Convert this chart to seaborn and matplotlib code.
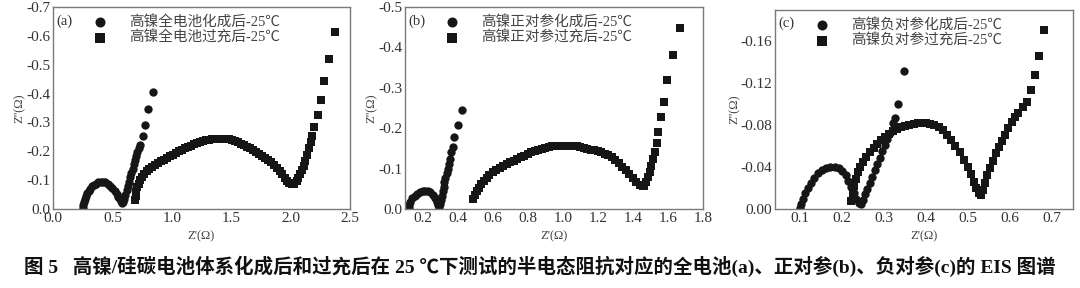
import numpy as np
import pandas as pd
import matplotlib
matplotlib.use("Agg")
import matplotlib.pyplot as plt
import seaborn as sns

# ---------------- data (Z' , -Z'') ----------------
a_form_x = [0.25, 0.255, 0.26, 0.27, 0.28, 0.29, 0.30, 0.315, 0.33, 0.345, 0.36, 0.38, 0.40, 0.42, 0.44,
            0.46, 0.48, 0.50, 0.52, 0.535, 0.55, 0.56, 0.57, 0.58, 0.59, 0.60, 0.61, 0.62, 0.63, 0.64,
            0.65, 0.66, 0.67, 0.68, 0.69, 0.70, 0.71, 0.72, 0.735, 0.755, 0.775, 0.80, 0.845]
a_form_y = [0.005, 0.015, 0.025, 0.035, 0.045, 0.055, 0.063, 0.071, 0.078, 0.084, 0.088, 0.092, 0.094, 0.094, 0.092,
            0.088, 0.081, 0.072, 0.062, 0.052, 0.042, 0.034, 0.027, 0.022, 0.024, 0.035, 0.05, 0.065, 0.08, 0.095,
            0.11, 0.125, 0.14, 0.155, 0.17, 0.185, 0.198, 0.21, 0.222, 0.252, 0.292, 0.345, 0.405]
a_over_x = [0.69, 0.695, 0.70, 0.71, 0.72, 0.735, 0.75, 0.77, 0.79, 0.81, 0.835, 0.86, 0.885, 0.91, 0.935,
            0.96, 0.985, 1.01, 1.035, 1.06, 1.085, 1.11, 1.135, 1.16, 1.185, 1.21, 1.235, 1.26, 1.285, 1.31,
            1.335, 1.36, 1.385, 1.41, 1.435, 1.46, 1.485, 1.51, 1.535, 1.56, 1.585, 1.61, 1.635, 1.66, 1.685,
            1.71, 1.735, 1.76, 1.785, 1.81, 1.835, 1.86, 1.885, 1.91, 1.93, 1.95, 1.97, 1.99, 2.01, 2.03,
            2.05, 2.065, 2.08, 2.095, 2.11, 2.125, 2.14, 2.155, 2.17, 2.18, 2.20, 2.227, 2.255, 2.28, 2.32, 2.37]
a_over_y = [0.03, 0.045, 0.06, 0.075, 0.088, 0.10, 0.11, 0.12, 0.13, 0.138, 0.146, 0.153, 0.159, 0.165, 0.171,
            0.177, 0.183, 0.188, 0.194, 0.20, 0.205, 0.21, 0.215, 0.22, 0.224, 0.228, 0.232, 0.235, 0.238, 0.24,
            0.242, 0.243, 0.244, 0.244, 0.244, 0.243, 0.241, 0.238, 0.235, 0.231, 0.226, 0.221, 0.216, 0.21, 0.204,
            0.198, 0.192, 0.185, 0.178, 0.17, 0.162, 0.153, 0.143, 0.132, 0.12, 0.108, 0.097, 0.089, 0.086, 0.088,
            0.096, 0.107, 0.12, 0.135, 0.15, 0.168, 0.188, 0.21, 0.232, 0.252, 0.284, 0.327, 0.379, 0.442, 0.52, 0.615]

b_form_x = [0.12, 0.123, 0.13, 0.14, 0.155, 0.17, 0.185, 0.20, 0.215, 0.23, 0.245, 0.26, 0.27, 0.28, 0.288,
            0.295, 0.30, 0.305, 0.31, 0.315, 0.32, 0.325, 0.33, 0.337, 0.343, 0.35, 0.357, 0.365, 0.372, 0.38,
            0.40, 0.425]
b_form_y = [0.003, 0.01, 0.018, 0.026, 0.033, 0.038, 0.042, 0.044, 0.045, 0.044, 0.041, 0.035, 0.027, 0.017, 0.009,
            0.006, 0.012, 0.022, 0.033, 0.044, 0.055, 0.066, 0.077, 0.088, 0.10, 0.112, 0.125, 0.14, 0.153, 0.177,
            0.208, 0.245]
b_over_x = [0.49, 0.50, 0.51, 0.52, 0.535, 0.55, 0.565, 0.58, 0.60, 0.62, 0.64, 0.66, 0.68, 0.70, 0.72,
            0.74, 0.76, 0.78, 0.80, 0.82, 0.84, 0.86, 0.88, 0.90, 0.92, 0.94, 0.96, 0.98, 1.00, 1.02,
            1.04, 1.06, 1.08, 1.10, 1.12, 1.14, 1.16, 1.18, 1.20, 1.22, 1.24, 1.26, 1.28, 1.30, 1.32,
            1.34, 1.36, 1.38, 1.40, 1.42, 1.44, 1.455, 1.465, 1.475, 1.485, 1.495, 1.505, 1.515, 1.525, 1.535,
            1.545, 1.56, 1.575, 1.595, 1.63, 1.67]
b_over_y = [0.025, 0.035, 0.045, 0.053, 0.062, 0.07, 0.077, 0.084, 0.091, 0.097, 0.102, 0.107, 0.112, 0.116, 0.12,
            0.124, 0.128, 0.132, 0.136, 0.14, 0.143, 0.146, 0.149, 0.151, 0.153, 0.155, 0.156, 0.157, 0.157, 0.157,
            0.157, 0.156, 0.155, 0.153, 0.151, 0.149, 0.147, 0.145, 0.143, 0.14, 0.137, 0.133, 0.128, 0.122, 0.114,
            0.105, 0.096, 0.087, 0.077, 0.068, 0.06, 0.056, 0.058, 0.066, 0.078, 0.092, 0.107, 0.123, 0.14, 0.163,
            0.19, 0.228, 0.265, 0.32, 0.38, 0.447]

c_form_x = [0.10, 0.103, 0.107, 0.112, 0.118, 0.125, 0.133, 0.142, 0.152, 0.162, 0.172, 0.182, 0.192, 0.20, 0.208,
            0.215, 0.222, 0.228, 0.234, 0.24, 0.245, 0.25, 0.255, 0.26, 0.266, 0.272, 0.278, 0.284, 0.29, 0.296,
            0.302, 0.308, 0.314, 0.32, 0.325, 0.334, 0.347]
c_form_y = [0.001, 0.005, 0.01, 0.015, 0.02, 0.025, 0.03, 0.034, 0.037, 0.039, 0.04, 0.04, 0.039, 0.036, 0.032,
            0.027, 0.021, 0.015, 0.01, 0.006, 0.005, 0.009, 0.014, 0.019, 0.025, 0.031, 0.037, 0.043, 0.049, 0.055,
            0.061, 0.067, 0.073, 0.082, 0.087, 0.10, 0.132]
c_over_x = [0.222, 0.225, 0.228, 0.232, 0.237, 0.243, 0.25, 0.258, 0.266, 0.275, 0.284, 0.293, 0.302, 0.311, 0.32,
            0.33, 0.34, 0.35, 0.36, 0.37, 0.38, 0.39, 0.40, 0.41, 0.42, 0.43, 0.44, 0.45, 0.46, 0.47,
            0.48, 0.49, 0.50, 0.508, 0.515, 0.52, 0.525, 0.53, 0.535, 0.54, 0.546, 0.552, 0.559, 0.566, 0.573,
            0.58, 0.588, 0.596, 0.604, 0.612, 0.62, 0.63, 0.64, 0.65, 0.66, 0.668, 0.68]
c_over_y = [0.008, 0.015, 0.022, 0.029, 0.035, 0.04, 0.045, 0.05, 0.054, 0.058, 0.062, 0.066, 0.069, 0.072, 0.074,
            0.076, 0.078, 0.079, 0.08, 0.081, 0.082, 0.082, 0.082, 0.081, 0.08, 0.078, 0.075, 0.071, 0.066, 0.06,
            0.054, 0.047, 0.04, 0.033, 0.026, 0.02, 0.015, 0.013, 0.018, 0.025, 0.032, 0.039, 0.046, 0.053, 0.059,
            0.065, 0.071, 0.077, 0.083, 0.088, 0.092, 0.097, 0.102, 0.114, 0.128, 0.146, 0.171]

labels_a = ["高镍全电池化成后-25℃", "高镍全电池过充后-25℃"]
labels_b = ["高镍正对参化成后-25℃", "高镍正对参过充后-25℃"]
labels_c = ["高镍负对参化成后-25℃", "高镍负对参过充后-25℃"]
panel_tags = ["(a)", "(b)", "(c)"]
x_label = "Z'(Ω)"
y_label = "Z''(Ω)"
caption = "图 5   高镍/硅碳电池体系化成后和过充后在 25 ℃下测试的半电态阻抗对应的全电池(a)、正对参(b)、负对参(c)的 EIS 图谱"

xlims = [(0.0, 2.5), (0.1, 1.8), (0.04, 0.75)]
ylims = [(0.0, -0.7), (0.0, -0.5), (0.0, -0.19)]
xticks = [np.arange(0, 2.51, 0.5), np.arange(0.2, 1.81, 0.2), np.arange(0.1, 0.71, 0.1)]
yticks = [-np.arange(0, 0.71, 0.1), -np.arange(0, 0.51, 0.1), -np.arange(0, 0.161, 0.04)]
yfmt = ["%.1f", "%.1f", "%.2f"]
xfmt = ["%.1f", "%.1f", "%.1f"]

# ---------------- style ----------------
sns.set_theme(style="white")
plt.rcParams['font.family'] = ['Liberation Serif', 'Noto Sans CJK SC', 'DejaVu Sans']
plt.rcParams['axes.unicode_minus'] = False

fig = plt.figure(figsize=(10.8, 2.88), dpi=100)
positions = [
    [53/1080, 1-209/288, 297/1080, 202/288],
    [405/1080, 1-209/288, 298/1080, 202/288],
    [775/1080, 1-209/288, 298/1080, 199/288],
]

datasets = [
    (a_form_x, a_form_y, a_over_x, a_over_y, labels_a),
    (b_form_x, b_form_y, b_over_x, b_over_y, labels_b),
    (c_form_x, c_form_y, c_over_x, c_over_y, labels_c),
]

mk_color = "#161616"
for i, (fx, fy, ox, oy, labs) in enumerate(datasets):
    ax = fig.add_axes(positions[i])
    df_f = pd.DataFrame({"x": fx, "y": -np.array(fy)})
    df_o = pd.DataFrame({"x": ox, "y": -np.array(oy)})
    sns.scatterplot(data=df_f, x="x", y="y", ax=ax, marker="o", s=36, color=mk_color,
                    edgecolor=mk_color, linewidth=0, label=labs[0])
    sns.scatterplot(data=df_o, x="x", y="y", ax=ax, marker="s", s=30, color=mk_color,
                    edgecolor=mk_color, linewidth=0, label=labs[1])
    ax.set_xlim(*xlims[i])
    ax.set_ylim(*ylims[i])
    ax.set_xticks(xticks[i])
    ax.set_yticks(yticks[i])
    ax.set_xticklabels([xfmt[i] % v for v in xticks[i]])
    ax.set_yticklabels([(yfmt[i] % v).replace("-0.0", "0.0") if abs(v) < 1e-9 else yfmt[i] % v for v in yticks[i]])
    ax.tick_params(axis="both", direction="in", length=3, width=0.8, colors="#333333",
                   labelsize=11, pad=2, labelcolor="#333333")
    for sp in ax.spines.values():
        sp.set_color("#7a7a7a")
        sp.set_linewidth(1.0)
    ax.set_xlabel(x_label, fontsize=9, color="#444444", labelpad=4)
    ax.set_ylabel(y_label, fontsize=9, color="#444444", labelpad=0)
    ax.text(0.012, 0.965, panel_tags[i], transform=ax.transAxes, ha="left", va="top",
            fontsize=10.5, color="#333333")
    leg = ax.legend(loc="upper left", bbox_to_anchor=(0.07, 1.02), frameon=False,
                    fontsize=10.5, handletextpad=1.0, labelspacing=0.15, borderpad=0.3,
                    markerscale=1.2)
    for t in leg.get_texts():
        t.set_color("#444444")

fig.text(0.5, 1-266/288, caption, ha="center", va="center", fontsize=14,
         fontweight="bold", color="#111111")

fig.savefig("out.png", dpi=100)
